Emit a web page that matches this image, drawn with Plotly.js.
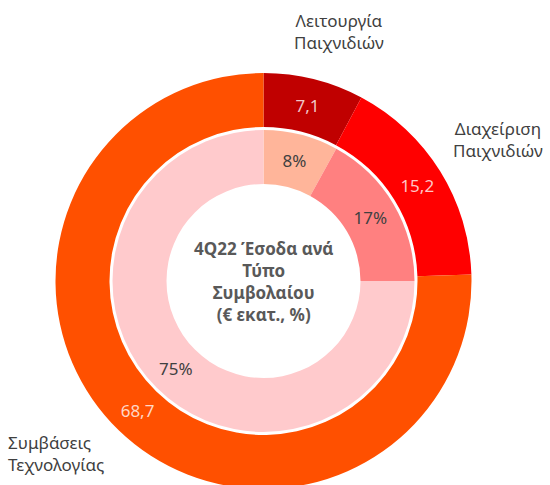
<!DOCTYPE html>
<html>
<head>
<meta charset="utf-8">
<script src="https://cdn.plot.ly/plotly-3.0.1.min.js"></script>
<style>
html,body{margin:0;padding:0;overflow:hidden;background:#fff;}
#chart{width:550px;height:500px;}
</style>
</head>
<body>
<div id="chart"></div>
<script>
// ---- data ----
const categories = ['Λειτουργία<br>Παιχνιδιών', 'Διαχείριση<br>Παιχνιδιών', 'Συμβάσεις<br>Τεχνολογίας'];
const revenueValues = [7.1, 15.2, 68.7];      // € εκατ.
const shareValues = [8, 17, 75];              // %
const centerTitle = '4Q22 Έσοδα ανά<br>Τύπο<br>Συμβολαίου<br>(€ εκατ., %)';

// ---- styles / layout ----
const outerColors = ['#C00000', '#FF0000', '#FF5000'];
const innerColors = ['#FFB59A', '#FF8080', '#FFCACC'];
const W = 550, H = 500;
const labelPos = [
  {x: 339, y: 31, xanchor: 'center', align: 'center'},
  {x: 498, y: 139, xanchor: 'center', align: 'center'},
  {x: 6, y: 453, xanchor: 'left', align: 'left'}
];
const FONT = 'Noto Sans, Open Sans, sans-serif';

const cx = 263.5, cy = 281;
const outerR = 208, outerHoleR = 154;
const innerR = 151, innerHoleR = 97;
function dom(r){
  return {
    x: [(cx - r)/W, (cx + r)/W],
    y: [1 - (cy + r)/H, 1 - (cy - r)/H]
  };
}

const outer = {
  type: 'pie',
  values: revenueValues,
  labels: categories,
  sort: false,
  direction: 'clockwise',
  rotation: 0,
  hole: outerHoleR/outerR,
  domain: dom(outerR),
  marker: {colors: outerColors, line: {width: 0}},
  texttemplate: '%{value:.1f}',
  textposition: 'inside',
  insidetextorientation: 'horizontal',
  textfont: {family: FONT, size: 17, color: 'rgba(255,255,255,0.78)'},
  hoverinfo: 'none',
  showlegend: false
};
const inner = {
  type: 'pie',
  values: shareValues,
  labels: categories,
  sort: false,
  direction: 'clockwise',
  rotation: 0,
  hole: innerHoleR/innerR,
  domain: dom(innerR),
  marker: {colors: innerColors, line: {width: 0}},
  texttemplate: '%{value}%',
  textposition: 'inside',
  insidetextorientation: 'horizontal',
  textfont: {family: FONT, size: 17, color: '#404040'},
  hoverinfo: 'none',
  showlegend: false
};

const annotations = categories.map((c, i) => ({
  text: c,
  xref: 'paper', yref: 'paper',
  x: labelPos[i].x / W, y: 1 - labelPos[i].y / H,
  xanchor: labelPos[i].xanchor, yanchor: 'middle', align: labelPos[i].align,
  showarrow: false,
  font: {family: FONT, size: 17, color: '#404040'}
}));
annotations.push({
  text: '<b>' + centerTitle + '</b>',
  xref: 'paper', yref: 'paper',
  x: cx / W, y: 1 - cy / H,
  xanchor: 'center', yanchor: 'middle', align: 'center',
  showarrow: false,
  font: {family: FONT, size: 17, color: '#595959'}
});

const layout = {
  width: W, height: H,
  margin: {l: 0, r: 0, t: 0, b: 0},
  paper_bgcolor: '#fff',
  separators: ',.',
  showlegend: false,
  annotations: annotations
};

Plotly.newPlot('chart', [outer, inner], layout, {displayModeBar: false, staticPlot: true});
</script>
</body>
</html>
